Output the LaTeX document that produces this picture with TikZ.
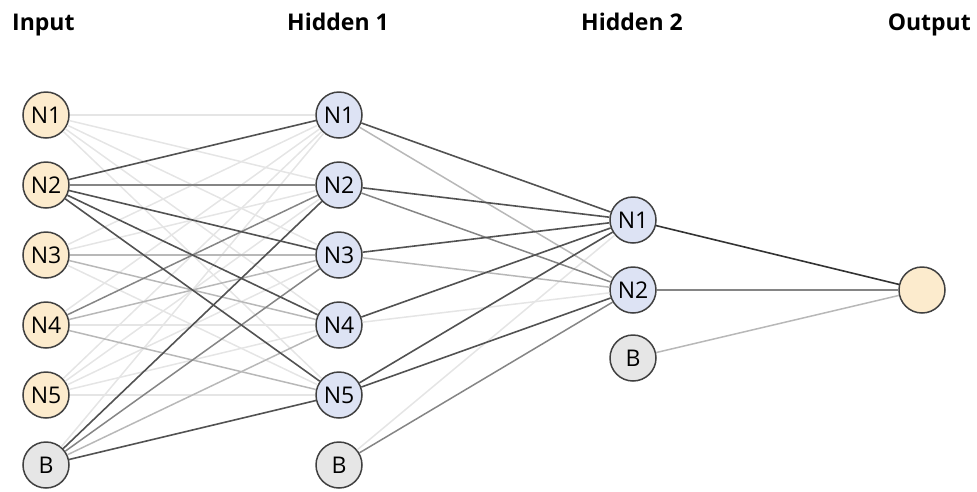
\documentclass[tikz,border=0pt]{standalone}
\usepackage{fontspec}
\setmainfont{Open Sans}
\usetikzlibrary{positioning}
\definecolor{inpfill}{HTML}{FCEBCD}
\definecolor{hidfill}{HTML}{DDE3F4}
\definecolor{biasfill}{HTML}{E6E6E6}
\tikzset{NNstyle/.style={
    x=1pt, y=-1pt,% work in pixels of the layout
    node distance=70pt,% spacing of neurons in a layer
    on grid,% arrange neurons on a grid
    neuron/.style={% define appearance of neurons
      circle,
      draw=black!75,
      line width=1.5pt,
      minimum size=46pt,
      inner sep=0pt,
      font=\fontsize{23}{27}\selectfont
    },
    inp/.style={neuron, fill=inpfill},
    hid/.style={neuron, fill=hidfill},
    bias/.style={neuron, fill=biasfill},
    title/.style={font=\bfseries\fontsize{23}{27}\selectfont, inner sep=0pt},
    wA/.style={draw=black!68, line width=1.6pt},% strong weight
    wB/.style={draw=black!48, line width=1.5pt},
    wC/.style={draw=black!28, line width=1.5pt},
    wD/.style={draw=black!10, line width=1.5pt}% weak weight
  }
}

\begin{document}
\begin{tikzpicture}[NNstyle]
  \useasboundingbox (0,0) rectangle (977,491);
  % layer titles
  \node[title,anchor=base west] (tin) at (12,30) {Input};
  \node[title,anchor=base] (th1) at (338,30) {Hidden 1};
  \node[title,anchor=base] (th2) at (632,30) {Hidden 2};
  \node[title,anchor=base east] (tout) at (971,30) {Output};
  % input layer
  \node[inp] (i1) at (46,115) {N1};
  \node[inp,below=of i1] (i2) {N2};
  \node[inp,below=of i2] (i3) {N3};
  \node[inp,below=of i3] (i4) {N4};
  \node[inp,below=of i4] (i5) {N5};
  \node[bias,below=of i5] (ib) {B};
  % first hidden layer
  \node[hid] (h1) at (339,115) {N1};
  \node[hid,below=of h1] (h2) {N2};
  \node[hid,below=of h2] (h3) {N3};
  \node[hid,below=of h3] (h4) {N4};
  \node[hid,below=of h4] (h5) {N5};
  \node[bias,below=of h5] (hb) {B};
  % second hidden layer
  \node[hid] (g1) at (633,220) {N1};
  \node[hid,below=of g1] (g2) {N2};
  \node[bias,below=68pt of g2] (gb) {B};
  % output
  \node[inp] (out) at (922,290) {};
  % weak weights first
  \foreach \a/\b in {i1/h1,i1/h2,i1/h3,i1/h4,i1/h5,i3/h1,i3/h2,i3/h5,
                     i4/h1,i4/h4,i5/h1,i5/h2,i5/h3,i5/h4,i5/h5,ib/h1,h4/g2,hb/g1}
    \path (\a) edge[wD] (\b);
  \path (i3) edge[wC] (h3)
        (i3) edge[wC] (h4)
        (i4) edge[wC] (h3)
        (i4) edge[wC] (h5)
        (ib) edge[wC] (h4)
        (h1) edge[wC] (g2)
        (h3) edge[wC] (g2)
        (gb) edge[wC] (out)
  ;
  \path (i2) edge[wB] (h2)
        (i4) edge[wB] (h2)
        (ib) edge[wB] (h3)
        (h2) edge[wB] (g2)
        (hb) edge[wB] (g2)
        (g2) edge[wB] (out)
  ;
  \path (i2) edge[wA] (h1)
        (i2) edge[wA] (h3)
        (i2) edge[wA] (h4)
        (i2) edge[wA] (h5)
        (ib) edge[wA] (h2)
        (ib) edge[wA] (h5)
        (h1) edge[wA] (g1)
        (h2) edge[wA] (g1)
        (h3) edge[wA] (g1)
        (h4) edge[wA] (g1)
        (h5) edge[wA] (g1)
        (h5) edge[wA] (g2)
        (g1) edge[draw=black!80,line width=1.6pt] (out)
  ;
\end{tikzpicture}
\end{document}
